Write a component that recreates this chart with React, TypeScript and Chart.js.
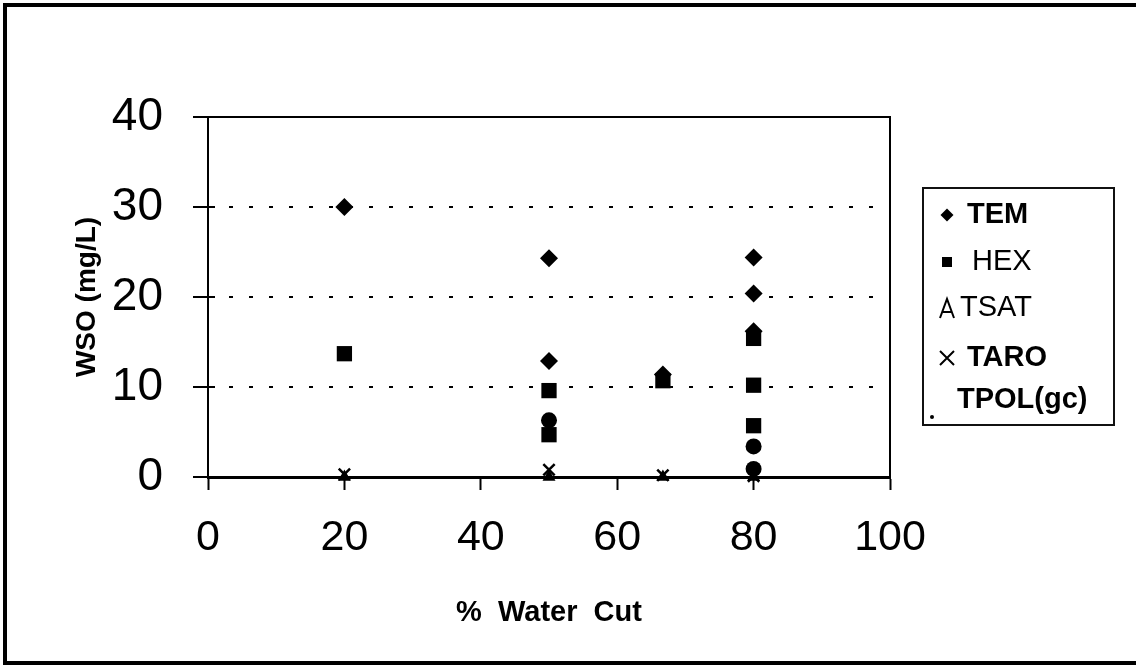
import React, { useEffect, useRef } from 'react';
import { Chart, registerables } from 'chart.js';

Chart.register(...registerables);

const FONT = '"Liberation Sans", Arial, Helvetica, sans-serif';

// ---- data (x = % water cut, y = WSO mg/L) ----
const temX = [20, 50, 50, 66.7, 80, 80, 80];
const temY = [30, 24.3, 12.9, 11.4, 24.4, 20.4, 16.2];

const hexX = [20, 50, 50, 66.7, 80, 80, 80];
const hexY = [13.7, 9.6, 4.7, 10.7, 15.4, 10.2, 5.7];

const tsatX = [20, 50, 66.7, 80];
const tsatY = [0, 0, 0, 0];

const taroX = [20, 50, 66.7, 80];
const taroY = [0.3, 0.8, 0.2, 0.1];

const tpolX = [50, 80, 80];
const tpolY = [6.3, 3.4, 0.9];

const seriesNames = ['TEM', 'HEX', 'TSAT', 'TARO', 'TPOL(gc)'];
const seriesBold = [true, false, false, true, true];
const xTickValues = [0, 20, 40, 60, 80, 100];
const yTickValues = [0, 10, 20, 30, 40];
const gridValues = [10, 20, 30];

const xTitle = '%  Water  Cut';
const yTitle = 'WSO (mg/L)';

const toPoints = (xs: number[], ys: number[]) => xs.map((x, i) => ({ x, y: ys[i] }));

const framePlugin = {
  id: 'frame',
  afterDraw(chart: any) {
    const { ctx, chartArea: a } = chart;
    ctx.save();
    ctx.strokeStyle = '#000';
    ctx.lineWidth = 2;
    ctx.beginPath();
    ctx.moveTo(a.left, a.top);
    ctx.lineTo(a.right, a.top);
    ctx.lineTo(a.right, a.bottom);
    ctx.stroke();
    // small inner tick stubs on the y axis
    const ys = chart.scales.y;
    ctx.lineWidth = 2;
    yTickValues.forEach((v) => {
      const py = ys.getPixelForValue(v);
      ctx.beginPath();
      ctx.moveTo(a.left, py);
      ctx.lineTo(a.left + 7, py);
      ctx.stroke();
    });
    // outer frame of the figure
    const W = chart.width;
    const H = chart.height;
    ctx.lineWidth = 4;
    ctx.beginPath();
    ctx.moveTo(W + 5, 5);
    ctx.lineTo(5, 5);
    ctx.lineTo(5, H - 9);
    ctx.lineTo(W + 5, H - 9);
    ctx.stroke();
    ctx.restore();
  },
};

const legendPlugin = {
  id: 'boxLegend',
  afterDraw(chart: any) {
    const { ctx, chartArea: a } = chart;
    const left = a.right + 33;
    const top = 188;
    const w = 191;
    const h = 237;
    ctx.save();
    ctx.strokeStyle = '#111';
    ctx.lineWidth = 2;
    ctx.strokeRect(left, top, w, h);
    const rowY = [215, 262, 308, 358, 400];
    const mx = left + 24;
    chart.data.datasets.forEach((ds: any, i: number) => {
      const y = rowY[i];
      ctx.fillStyle = '#000';
      ctx.strokeStyle = '#000';
      const style = ds.pointStyle;
      ctx.beginPath();
      if (style === 'rectRot') {
        ctx.moveTo(mx - 6.5, y);
        ctx.lineTo(mx, y - 6.5);
        ctx.lineTo(mx + 6.5, y);
        ctx.lineTo(mx, y + 6.5);
        ctx.closePath();
        ctx.fill();
      } else if (style === 'rect') {
        ctx.rect(mx - 5, y - 5, 10, 10);
        ctx.fill();
      } else if (style === 'triangle') {
        ctx.lineWidth = 2;
        ctx.moveTo(mx - 7, y + 10);
        ctx.lineTo(mx, y - 9);
        ctx.lineTo(mx + 7, y + 10);
        ctx.moveTo(mx - 4.5, y + 4);
        ctx.lineTo(mx + 4.5, y + 4);
        ctx.stroke();
      } else if (style === 'crossRot') {
        ctx.lineWidth = 2;
        ctx.moveTo(mx - 7, y - 7);
        ctx.lineTo(mx + 7, y + 7);
        ctx.moveTo(mx + 7, y - 7);
        ctx.lineTo(mx - 7, y + 7);
        ctx.stroke();
      } else {
        ctx.arc(left + 9, 417, 2, 0, Math.PI * 2);
        ctx.fill();
      }
      ctx.font = `${seriesBold[i] ? 'bold ' : ''}29px ${FONT}`;
      ctx.textBaseline = 'middle';
      ctx.textAlign = 'left';
      const tx = i === 4 ? left + 34 : i === 1 ? left + 49 : i === 2 ? left + 37 : left + 44;
      ctx.fillText(ds.label, tx, y);
    });
    ctx.restore();
  },
};

export default function App() {
  const ref = useRef<HTMLCanvasElement | null>(null);

  useEffect(() => {
    if (!ref.current) return;
    const common = {
      showLine: false,
      backgroundColor: '#000',
      borderColor: '#000',
      clip: false as any,
    };
    const chart = new Chart(ref.current, {
      type: 'scatter',
      data: {
        datasets: [
          { ...common, label: seriesNames[0], data: toPoints(temX, temY), pointStyle: 'rectRot', pointRadius: 9, borderWidth: 0 },
          { ...common, label: seriesNames[1], data: toPoints(hexX, hexY), pointStyle: 'rect', pointRadius: 10.8, borderWidth: 0 },
          { ...common, label: seriesNames[2], data: toPoints(tsatX, tsatY), pointStyle: 'triangle', pointRadius: 7.5, borderWidth: 0 },
          { ...common, label: seriesNames[3], data: toPoints(taroX, taroY), pointStyle: 'crossRot', pointRadius: 8, borderWidth: 2.5 },
          { ...common, label: seriesNames[4], data: toPoints(tpolX, tpolY), pointStyle: 'circle', pointRadius: 8, borderWidth: 0 },
        ],
      },
      options: {
        animation: false,
        responsive: false,
        layout: { padding: { left: 0, top: 117, right: 246, bottom: 0 } },
        plugins: { legend: { display: false }, tooltip: { enabled: false } },
        scales: {
          x: {
            type: 'linear',
            min: 0,
            max: 100,
            afterFit: (s: any) => { s.height = 195; },
            afterBuildTicks: (s: any) => { s.ticks = xTickValues.map((v) => ({ value: v })); },
            ticks: {
              color: '#000',
              font: { family: FONT, size: 43 },
              padding: 22,
              maxRotation: 0,
            },
            grid: {
              drawOnChartArea: false,
              color: '#000',
              tickColor: '#000',
              tickLength: 13,
              tickWidth: 2,
            },
            border: { display: true, color: '#000', width: 3 },
            title: {
              display: true,
              text: xTitle,
              color: '#000',
              font: { family: FONT, size: 29, weight: 'bold' },
              padding: { top: 0, bottom: 42 },
            },
          },
          y: {
            type: 'linear',
            min: 0,
            max: 40,
            afterFit: (s: any) => { s.width = 208; },
            afterBuildTicks: (s: any) => { s.ticks = yTickValues.map((v) => ({ value: v })); },
            ticks: {
              color: '#000',
              font: { family: FONT, size: 46 },
              padding: 30,
            },
            grid: {
              drawOnChartArea: true,
              color: (c: any) => (gridValues.includes(c.tick?.value) ? '#000' : 'rgba(0,0,0,0)'),
              lineWidth: 2,
              tickColor: '#000',
              tickLength: 15,
              tickWidth: 2,
              tickBorderDash: [],
            },
            border: { display: true, color: '#000', width: 2, dash: [4, 16] },
            title: {
              display: true,
              text: yTitle,
              color: '#000',
              font: { family: FONT, size: 28, weight: 'bold' },
              padding: { top: 70, bottom: 0 },
            },
          },
        },
      },
      plugins: [framePlugin, legendPlugin],
    } as any);
    return () => chart.destroy();
  }, []);

  return (
    <div style={{ position: 'absolute', left: 0, top: 0, width: 1136, height: 672, background: '#fff' }}>
      <canvas ref={ref} width={1136} height={672} style={{ display: 'block' }} />
    </div>
  );
}
